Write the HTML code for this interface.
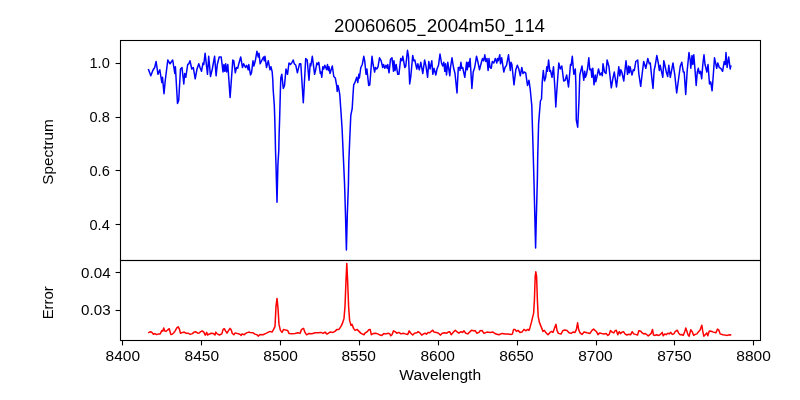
<!DOCTYPE html>
<html><head><meta charset="utf-8"><title>20060605_2004m50_114</title>
<style>
html,body{margin:0;padding:0;background:#fff;}
body{width:800px;height:400px;overflow:hidden;}
svg{display:block;will-change:transform;}
text{font-family:"Liberation Sans",sans-serif;fill:#000;}
.tk{font-size:14.0px;}
.ti{font-size:17.8px;}
</style></head><body>
<svg width="800" height="400" viewBox="0 0 800 400">
<rect x="0" y="0" width="800" height="400" fill="#ffffff"/>
<polyline fill="none" stroke="#0000ff" stroke-width="1.5" stroke-linejoin="round" stroke-linecap="butt" points="148.3,69.0 150.8,75.8 152.8,70.5 154.7,67.5 156.1,61.5 158.0,74.3 159.8,69.8 161.8,82.5 162.5,77.3 164.0,93.8 165.2,81.0 167.8,60.0 170.0,63.8 172.7,60.0 174.8,73.5 175.4,66.8 177.5,103.5 178.7,100.5 180.5,69.0 182.0,67.5 183.8,84.0 184.7,73.5 185.8,77.3 187.7,64.5 188.8,63.8 190.0,60.8 191.8,69.0 193.3,67.5 195.2,78.8 197.0,69.0 198.8,63.8 200.0,67.5 201.5,71.3 203.0,63.0 203.8,64.5 205.1,53.3 207.5,74.3 208.7,56.3 210.5,76.5 212.3,69.0 214.6,56.3 216.1,75.8 217.3,64.5 219.2,57.0 221.2,57.0 223.0,72.0 223.9,64.5 224.8,71.3 225.7,63.8 226.6,72.0 227.8,64.5 230.1,97.5 232.8,60.0 233.8,60.8 235.3,72.8 236.5,67.5 237.7,68.3 238.8,63.8 240.7,57.0 242.5,67.5 243.7,63.8 245.5,67.5 246.7,65.3 248.2,69.8 248.8,64.5 250.5,75.0 251.5,72.8 253.0,60.8 253.9,66.0 255.3,60.8 256.9,51.3 258.3,57.0 259.0,53.3 260.2,63.8 262.0,60.0 263.5,57.0 264.3,60.8 265.0,56.3 266.5,67.5 268.3,60.8 270.0,69.8 271.0,66.8 272.2,72.0 272.8,80.0 273.2,90.0 274.3,105.0 274.8,120.0 275.2,135.0 275.5,150.0 276.0,165.0 277.0,202.3 277.9,165.0 278.8,150.0 279.1,135.0 279.6,120.0 280.0,105.0 280.4,90.0 280.8,78.0 281.8,74.3 283.3,88.5 284.5,85.5 286.0,69.0 287.5,74.3 289.0,63.0 290.5,64.5 292.0,62.3 293.2,60.0 294.3,63.8 295.8,65.3 297.4,72.8 299.5,63.8 300.8,63.8 303.3,102.8 305.7,58.5 307.2,60.0 309.0,80.3 310.2,63.8 310.8,66.0 312.3,56.3 314.6,74.3 315.8,69.0 316.8,63.0 317.7,64.5 318.8,62.3 320.3,73.5 321.0,72.0 321.8,77.3 322.8,66.8 323.7,69.0 324.8,65.3 326.7,69.8 327.5,64.5 328.5,70.5 329.0,66.8 330.0,73.5 332.3,66.0 333.8,76.5 335.3,78.0 336.8,86.3 337.2,91.5 338.0,85.5 339.3,91.5 339.8,95.0 341.0,112.0 342.1,128.8 343.6,162.5 344.6,185.0 345.5,215.0 346.4,250.0 347.3,215.0 348.4,185.0 348.8,162.5 349.7,140.0 350.8,115.3 352.2,108.5 353.0,95.0 353.7,84.8 355.2,81.8 356.7,77.3 357.8,82.5 358.8,74.3 359.4,78.0 360.8,67.5 362.3,64.5 363.8,56.3 364.8,61.5 366.0,74.3 366.9,69.0 368.7,85.5 369.8,84.8 372.0,56.3 373.1,64.5 374.6,72.0 375.5,67.5 376.8,69.0 378.0,66.8 379.5,57.8 381.2,60.8 382.7,67.5 383.6,64.5 384.8,68.3 386.0,65.3 387.2,68.3 387.8,64.5 389.0,72.8 390.5,59.3 392.0,57.8 393.5,71.3 394.0,60.8 395.0,70.5 396.2,64.5 397.7,74.3 398.9,74.3 400.7,58.5 401.8,60.8 402.8,56.3 404.8,67.5 405.8,66.0 407.5,50.3 408.5,56.3 409.7,84.0 410.8,76.5 412.7,55.5 413.8,60.8 414.8,60.0 416.8,69.0 417.8,63.8 419.3,69.8 420.8,62.3 422.8,73.5 424.6,60.0 426.1,66.8 427.6,77.3 428.8,61.5 430.0,69.0 431.8,60.8 432.8,74.3 434.0,68.3 435.8,75.0 437.0,69.0 438.5,65.3 440.0,54.0 441.5,63.0 442.7,66.0 443.8,62.3 444.8,71.3 445.6,63.8 446.5,75.0 447.8,62.3 449.8,75.8 450.5,67.5 452.0,57.8 453.5,67.5 455.0,73.5 457.0,93.0 458.3,67.5 459.8,67.5 460.0,70.5 460.9,62.3 461.8,68.3 462.7,67.5 464.8,77.3 466.6,62.3 467.2,69.8 468.3,62.3 469.0,66.8 470.1,58.5 471.9,88.5 473.2,72.0 474.7,67.5 476.5,56.3 478.0,62.3 479.5,69.8 481.0,63.8 482.5,58.5 483.7,60.8 484.8,54.8 485.8,61.5 487.0,58.5 488.1,70.5 489.0,58.5 490.0,67.5 491.2,68.3 492.3,61.5 493.8,63.0 495.3,58.5 496.8,63.0 497.5,58.5 498.3,60.8 499.8,54.8 500.5,63.8 501.7,57.8 503.8,72.0 505.0,67.5 506.5,65.3 508.5,54.8 510.3,70.5 511.0,62.3 511.9,64.5 514.0,84.8 515.8,69.8 517.3,65.3 518.8,69.0 520.3,75.8 521.8,67.5 523.0,73.5 524.2,72.0 525.7,72.8 527.5,85.5 529.0,80.3 529.8,86.3 530.3,90.0 531.8,105.8 533.0,146.0 533.9,178.0 534.8,215.0 535.6,248.0 536.4,215.0 537.4,178.0 537.7,157.5 538.6,123.8 540.4,101.0 541.5,99.0 542.3,81.0 543.3,70.5 544.5,81.0 545.7,77.3 546.8,66.8 547.5,71.3 548.6,60.0 549.8,71.3 550.5,70.5 552.0,77.3 553.5,66.8 555.0,90.0 555.8,107.0 556.6,94.0 558.8,63.0 560.3,69.0 561.8,66.0 563.7,81.0 565.2,80.3 566.7,75.0 568.5,87.0 570.5,64.5 571.2,65.3 572.3,56.3 573.8,74.3 575.3,69.0 575.9,85.0 576.3,120.0 577.7,127.2 579.0,100.0 579.8,75.0 582.0,66.0 583.8,80.3 584.7,71.3 585.5,77.3 586.5,74.3 587.7,67.5 588.8,57.8 589.8,69.8 591.0,69.0 591.8,77.3 592.8,68.3 594.0,84.8 595.2,75.0 595.8,81.8 597.0,76.5 598.5,69.0 600.0,75.0 601.5,72.8 602.3,75.8 603.0,63.8 604.5,72.0 606.0,73.5 607.1,60.0 609.0,66.8 611.3,87.8 612.8,78.8 614.3,72.0 616.5,87.0 618.8,66.8 619.8,75.8 620.8,69.8 621.8,72.0 623.8,81.0 626.0,60.8 627.5,74.3 628.6,66.0 629.3,72.8 630.2,66.8 630.8,69.8 632.0,75.0 633.2,69.8 634.3,70.5 635.8,61.5 637.7,60.0 638.8,73.5 640.7,86.3 642.2,73.5 643.7,61.5 645.8,68.3 647.8,58.5 649.3,63.8 650.3,63.0 651.5,75.0 653.0,88.5 654.2,69.8 655.0,66.8 656.8,55.5 658.3,63.0 659.3,70.5 660.2,65.3 662.8,77.3 663.8,60.8 664.7,64.5 666.5,72.8 667.7,76.5 668.8,65.3 670.3,77.3 673.0,63.0 674.8,75.0 676.7,93.0 678.5,79.5 680.3,66.0 681.8,62.3 683.3,72.0 684.2,72.0 685.7,94.5 687.2,70.5 689.0,52.5 690.2,60.0 690.8,68.3 692.0,55.5 692.8,64.5 693.8,54.8 695.0,69.8 696.2,85.5 697.3,72.0 698.3,68.3 699.3,73.5 700.5,71.3 701.7,78.8 702.8,64.5 704.0,54.8 705.0,64.5 705.8,67.5 706.8,72.0 708.0,64.5 709.5,84.0 710.7,81.8 712.1,90.8 713.3,75.0 714.5,57.8 715.5,62.3 716.7,68.3 717.8,63.0 719.3,67.5 720.8,68.3 722.6,71.3 724.2,61.5 725.3,64.5 726.0,52.5 727.1,67.5 728.7,57.0 730.2,69.0 731.0,65.3"/>
<polyline fill="none" stroke="#ff0000" stroke-width="1.5" stroke-linejoin="round" stroke-linecap="butt" points="148.2,332.9 150.5,331.7 152.0,332.4 153.5,334.2 155.0,333.6 156.5,334.6 158.8,333.9 160.2,333.9 161.8,330.6 162.8,331.2 163.7,327.9 164.8,330.9 166.2,331.2 167.8,329.8 169.2,328.7 170.8,334.4 172.2,334.2 173.8,332.8 175.2,330.9 176.8,327.9 178.2,326.8 179.4,329.1 180.5,333.2 182.8,332.4 184.2,332.1 185.8,333.2 188.0,333.2 190.2,334.4 192.5,333.6 194.0,332.1 195.5,331.7 197.8,333.2 199.2,332.9 200.8,331.7 202.2,330.9 203.8,332.1 205.2,335.1 206.8,332.4 207.5,335.1 209.0,334.2 211.2,333.2 213.5,333.6 215.0,335.0 215.8,332.1 217.2,333.9 219.5,335.0 221.8,333.9 223.2,329.1 224.3,328.7 225.5,330.9 227.0,333.2 228.5,330.6 230.0,328.4 231.2,329.8 232.2,333.2 233.8,334.7 235.2,332.9 237.5,333.6 239.8,334.2 241.2,335.4 242.0,333.9 244.2,334.7 246.5,332.9 248.8,332.1 250.0,332.4 253.0,332.8 255.0,334.1 257.0,334.8 258.4,336.1 260.0,334.4 263.0,334.8 266.0,333.4 268.0,332.4 270.0,331.4 272.0,332.1 273.6,329.4 275.0,326.4 276.0,306.4 277.0,298.4 278.0,308.4 279.0,324.4 280.4,330.4 282.0,332.4 283.6,329.4 285.6,330.1 287.6,330.4 289.0,333.4 292.0,333.8 295.0,333.4 298.0,332.8 300.0,333.4 301.6,329.4 303.6,328.4 305.0,332.4 306.6,334.8 309.0,333.4 312.0,333.8 315.0,332.8 318.0,332.8 321.0,332.4 323.0,333.4 325.0,332.1 327.0,334.1 330.0,332.1 333.0,332.4 335.0,331.4 337.0,329.4 339.0,329.4 341.0,326.4 342.4,323.4 344.0,318.4 345.0,306.4 346.0,280.4 346.8,263.4 347.6,280.4 348.6,306.4 349.6,320.4 351.0,325.4 352.0,324.4 353.6,328.4 355.0,330.4 357.0,329.4 359.0,331.4 361.0,333.4 364.0,334.8 365.0,333.2 367.2,331.7 368.8,329.8 370.2,329.4 371.3,334.7 373.2,333.6 375.5,333.2 377.8,333.9 380.0,335.1 381.8,335.4 383.8,333.6 386.0,333.9 388.2,333.2 389.8,333.9 390.8,335.8 392.0,334.7 393.5,330.9 395.0,331.7 396.8,333.2 398.8,332.4 401.0,333.9 403.2,333.2 405.5,333.9 407.8,334.4 409.2,330.9 410.8,333.2 412.7,335.0 414.5,333.2 416.8,332.8 418.2,331.7 420.2,333.2 421.7,335.1 423.5,333.9 425.0,333.2 426.5,334.2 428.0,332.4 429.5,332.8 431.0,331.7 432.8,330.2 434.0,332.1 436.2,332.4 438.5,333.2 440.3,335.1 442.2,333.2 444.5,332.8 446.8,333.2 448.2,332.1 449.8,331.7 451.2,334.7 453.5,332.1 455.3,330.2 456.8,331.7 458.8,333.2 461.0,331.7 462.5,332.4 464.0,330.9 465.8,333.2 467.8,333.9 470.0,331.7 471.8,330.2 473.8,330.9 475.2,330.6 476.8,333.2 479.0,332.4 480.0,330.8 482.0,330.4 484.0,333.4 487.0,332.1 490.0,332.4 493.0,332.1 496.0,334.1 499.0,334.8 502.0,333.4 505.0,334.1 508.0,334.1 511.0,334.4 512.4,334.1 513.6,329.4 515.0,329.4 516.4,331.4 518.0,330.4 520.0,332.4 522.0,332.1 524.0,329.4 526.0,330.8 527.6,329.4 529.0,330.4 530.0,327.4 531.4,322.4 532.6,317.4 533.6,313.4 534.4,300.4 535.2,276.4 535.8,271.8 536.6,276.4 537.4,300.4 538.2,316.4 539.4,322.4 541.0,326.4 543.0,331.4 544.4,330.4 546.0,332.8 548.0,334.8 550.0,332.4 551.6,331.4 553.0,332.4 554.4,328.4 556.0,324.4 557.0,330.4 558.4,333.4 561.0,334.1 563.0,330.4 565.0,330.1 567.0,330.4 569.0,332.8 571.0,333.4 573.0,332.1 575.0,332.4 576.4,329.4 577.6,322.8 578.6,329.4 580.0,332.8 582.0,334.4 584.0,332.1 587.0,332.8 590.0,333.4 592.0,330.4 593.6,329.1 596.5,331.7 598.0,334.7 599.5,332.9 601.8,333.5 604.0,333.9 606.2,333.6 607.8,335.4 609.2,334.4 610.5,330.6 612.2,332.1 613.8,332.9 615.2,330.6 616.3,330.2 617.8,334.7 619.3,331.7 620.5,333.6 622.0,332.1 623.5,331.7 625.0,333.9 626.8,335.0 628.8,334.2 630.7,334.7 632.2,331.7 633.7,333.9 635.5,334.4 637.5,335.1 639.0,330.6 640.8,331.2 642.2,332.9 643.8,333.9 645.2,333.6 646.8,334.7 648.2,335.9 649.8,334.7 651.2,333.2 652.5,329.4 653.5,335.1 655.0,335.4 656.5,334.7 658.0,335.4 659.5,335.1 661.0,333.9 662.2,332.4 663.2,335.8 664.8,333.9 666.2,334.7 667.8,333.2 669.2,333.9 670.8,332.4 672.2,334.4 673.8,333.9 675.2,331.7 677.2,330.2 678.7,333.2 680.2,334.7 681.7,334.4 683.2,335.4 684.7,331.7 685.8,327.9 686.8,330.9 688.0,334.7 689.2,336.2 690.7,329.8 692.2,331.7 693.7,335.4 695.2,334.4 697.0,333.9 698.5,331.7 700.0,330.2 701.8,325.2 702.7,330.9 703.8,336.2 705.2,334.7 706.8,332.9 707.8,335.8 709.3,330.9 711.2,331.2 713.5,332.1 716.0,332.8 717.5,329.1 718.7,329.8 720.2,333.9 722.8,334.7 725.0,335.1 727.2,335.4 729.5,334.7 731.3,335.0"/>
<g stroke="#000" stroke-width="1.1" fill="none" shape-rendering="auto">
<rect x="120.5" y="40.5" width="640" height="220"/>
<rect x="120.5" y="260.5" width="640" height="80"/>
</g>
<g stroke="#000" stroke-width="1.1">
<line x1="122.5" y1="340.5" x2="122.5" y2="345.4"/>
<line x1="201.5" y1="340.5" x2="201.5" y2="345.4"/>
<line x1="280.5" y1="340.5" x2="280.5" y2="345.4"/>
<line x1="359.5" y1="340.5" x2="359.5" y2="345.4"/>
<line x1="438.5" y1="340.5" x2="438.5" y2="345.4"/>
<line x1="517.5" y1="340.5" x2="517.5" y2="345.4"/>
<line x1="596.5" y1="340.5" x2="596.5" y2="345.4"/>
<line x1="674.5" y1="340.5" x2="674.5" y2="345.4"/>
<line x1="753.5" y1="340.5" x2="753.5" y2="345.4"/>
<line x1="115.6" y1="63.5" x2="120.5" y2="63.5"/>
<line x1="115.6" y1="117.5" x2="120.5" y2="117.5"/>
<line x1="115.6" y1="170.5" x2="120.5" y2="170.5"/>
<line x1="115.6" y1="224.5" x2="120.5" y2="224.5"/>
<line x1="115.6" y1="272.5" x2="120.5" y2="272.5"/>
<line x1="115.6" y1="310.5" x2="120.5" y2="310.5"/>
</g>
<g opacity="0.999">
<text class="tk" x="122.8" y="361" text-anchor="middle" textLength="34.5" lengthAdjust="spacingAndGlyphs">8400</text>
<text class="tk" x="201.8" y="361" text-anchor="middle" textLength="34.5" lengthAdjust="spacingAndGlyphs">8450</text>
<text class="tk" x="280.6" y="361" text-anchor="middle" textLength="34.5" lengthAdjust="spacingAndGlyphs">8500</text>
<text class="tk" x="358.7" y="361" text-anchor="middle" textLength="34.5" lengthAdjust="spacingAndGlyphs">8550</text>
<text class="tk" x="437.7" y="361" text-anchor="middle" textLength="34.5" lengthAdjust="spacingAndGlyphs">8600</text>
<text class="tk" x="516.5" y="361" text-anchor="middle" textLength="34.5" lengthAdjust="spacingAndGlyphs">8650</text>
<text class="tk" x="595.5" y="361" text-anchor="middle" textLength="34.5" lengthAdjust="spacingAndGlyphs">8700</text>
<text class="tk" x="674.4" y="361" text-anchor="middle" textLength="34.5" lengthAdjust="spacingAndGlyphs">8750</text>
<text class="tk" x="753.6" y="361" text-anchor="middle" textLength="34.5" lengthAdjust="spacingAndGlyphs">8800</text>
<text class="tk" x="109.8" y="68.0" text-anchor="end" textLength="20.3" lengthAdjust="spacingAndGlyphs">1.0</text>
<text class="tk" x="109.8" y="122.0" text-anchor="end" textLength="20.3" lengthAdjust="spacingAndGlyphs">0.8</text>
<text class="tk" x="109.8" y="176.0" text-anchor="end" textLength="20.3" lengthAdjust="spacingAndGlyphs">0.6</text>
<text class="tk" x="109.8" y="230.0" text-anchor="end" textLength="20.3" lengthAdjust="spacingAndGlyphs">0.4</text>
<text class="tk" x="110.6" y="278.0" text-anchor="end" textLength="29.5" lengthAdjust="spacingAndGlyphs">0.04</text>
<text class="tk" x="110.6" y="315.0" text-anchor="end" textLength="29.5" lengthAdjust="spacingAndGlyphs">0.03</text>
<text class="tk" x="440.2" y="380" text-anchor="middle" textLength="81.9" lengthAdjust="spacingAndGlyphs">Wavelength</text>
<text class="tk" transform="translate(53,152.0) rotate(-90)" text-anchor="middle" textLength="65.5" lengthAdjust="spacingAndGlyphs">Spectrum</text>
<text class="tk" transform="translate(53,302.8) rotate(-90)" text-anchor="middle" textLength="33" lengthAdjust="spacingAndGlyphs">Error</text>
<text class="ti" x="334.10" y="32.0" textLength="82.40" lengthAdjust="spacingAndGlyphs">20060605</text>
<text class="ti" x="426.80" y="32.0" textLength="78.40" lengthAdjust="spacingAndGlyphs">2004m50</text>
<text class="ti" x="514.30" y="32.0" textLength="9.7" lengthAdjust="spacingAndGlyphs">1</text>
<text class="ti" x="525.10" y="32.0" textLength="9.7" lengthAdjust="spacingAndGlyphs">1</text>
<text class="ti" x="534.40" y="32.0" textLength="10.4" lengthAdjust="spacingAndGlyphs">4</text>
<rect x="417.3" y="34.7" width="8.3" height="1.3" fill="#000"/>
<rect x="504.9" y="34.7" width="8.3" height="1.3" fill="#000"/>
</g>
</svg>
</body></html>
